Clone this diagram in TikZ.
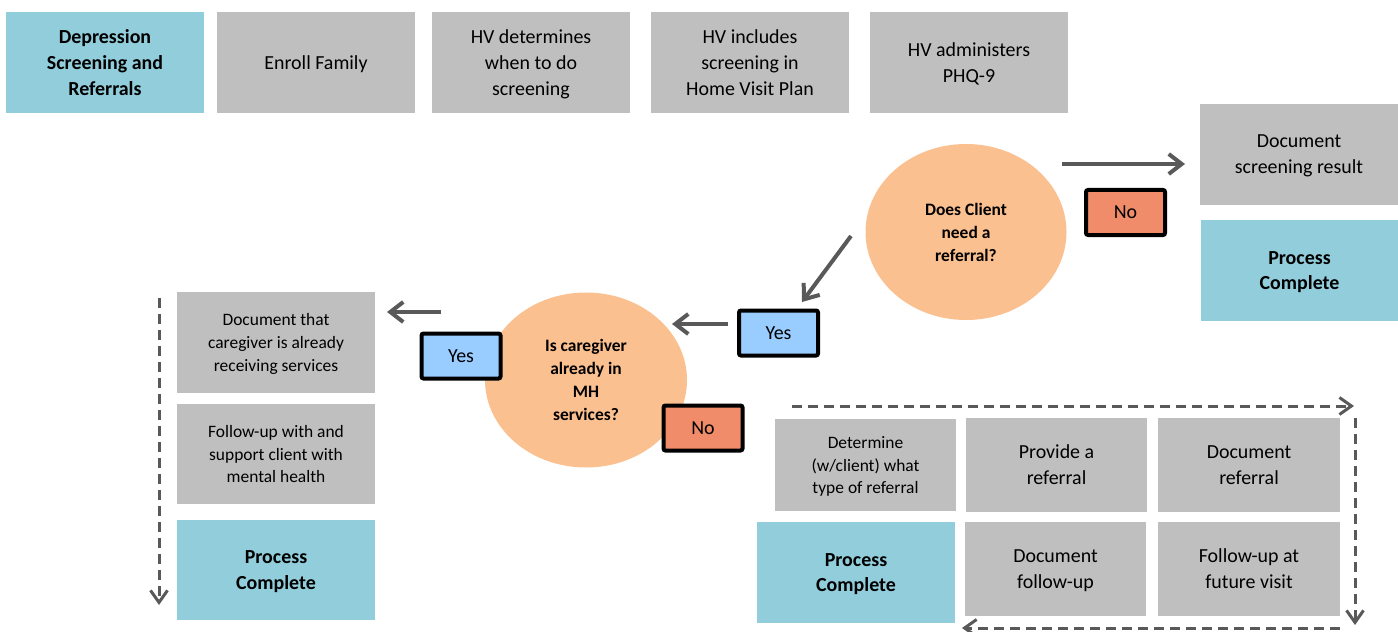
\documentclass[tikz,border=0pt]{standalone}
\usepackage{fontspec}
\setmainfont{Carlito}
\usetikzlibrary{arrows.meta,shapes.geometric}
\definecolor{boxgray}{HTML}{BFBFBF}
\definecolor{boxblue}{HTML}{92CDDC}
\definecolor{circc}{HTML}{FAC090}
\definecolor{yesc}{HTML}{99CCFF}
\definecolor{noc}{HTML}{F08C6A}
\definecolor{arrc}{HTML}{595959}
\begin{document}
\begin{tikzpicture}[x=1bp,y=-1bp,
  base/.style={inner sep=0pt, outer sep=0pt, align=center, anchor=north west, text depth=-3bp},
  gbox/.style={base, fill=boxgray, font=\fontsize{20}{26}\selectfont},
  sbox/.style={base, fill=boxgray, font=\fontsize{17.5}{23}\selectfont},
  bbox/.style={base, fill=boxblue, font=\fontsize{20}{26}\selectfont\bfseries},
  decision/.style={ellipse, fill=circc, inner sep=0pt, align=center, text depth=-2bp, font=\fontsize{17.5}{23}\selectfont\bfseries},
  tag/.style={draw=black, line width=4bp, rounded corners=2bp, inner sep=0pt, minimum width=79bp, minimum height=45bp, text depth=-6bp, font=\fontsize{20}{24}\selectfont},
  flow/.style={draw=arrc, line width=4bp, -{Straight Barb[length=13bp,width=20bp]}},
  dflow/.style={draw=arrc, line width=3bp, dash pattern=on 10bp off 6bp, -{Straight Barb[length=12bp,width=17bp]}}
]
\useasboundingbox (0,0) rectangle (1398,632);

% top row
\node[bbox, minimum width=198bp, minimum height=101bp] (dep) at (6,12) {Depression\\Screening and\\Referrals};
\node[gbox, minimum width=198bp, minimum height=101bp] (enroll) at (217,12) {Enroll Family};
\node[gbox, minimum width=198bp, minimum height=101bp] (hvdet) at (432,12) {HV determines\\when to do\\screening};
\node[gbox, minimum width=198bp, minimum height=101bp] (hvinc) at (651,12) {HV includes\\screening in\\Home Visit Plan};
\node[gbox, minimum width=198bp, minimum height=101bp] (hvadm) at (870,12) {HV administers\\PHQ-9};

% right column
\node[gbox, minimum width=198bp, minimum height=101bp] (docscr) at (1200,104) {Document\\screening result};
\node[bbox, minimum width=197bp, minimum height=101bp] (pc1) at (1201,220) {Process\\Complete};

% decisions
\node[decision, minimum width=201bp, minimum height=176bp] (q1) at (966,232) {Does Client\\need a\\referral?};
\node[decision, minimum width=202bp, minimum height=175bp] (q2) at (586,380) {Is caregiver\\already in\\MH\\services?};

% tags
\node[tag, fill=noc] (no1) at (1125.5,212.5) {No};
\node[tag, fill=yesc] (yes1) at (778.5,333) {Yes};
\node[tag, fill=yesc] (yes2) at (461,356) {Yes};
\node[tag, fill=noc] (no2) at (703,428) {No};

% left column
\node[sbox, minimum width=198bp, minimum height=101bp] (doccare) at (177,292) {Document that\\caregiver is already\\receiving services};
\node[sbox, minimum width=198bp, minimum height=100bp] (fuwith) at (177,404) {Follow-up with and\\support client with\\mental health};
\node[bbox, minimum width=198bp, minimum height=100bp] (pc2) at (177,520) {Process\\Complete};

% bottom right grid
\node[sbox, minimum width=181bp, minimum height=92bp] (determ) at (775,419) {Determine\\(w/client) what\\type of referral};
\node[gbox, minimum width=181bp, minimum height=94bp] (provide) at (966,418) {Provide a\\referral};
\node[gbox, minimum width=182bp, minimum height=94bp] (docref) at (1158,418) {Document\\referral};
\node[bbox, minimum width=198bp, minimum height=101bp] (pc3) at (757,522) {Process\\Complete};
\node[gbox, minimum width=181bp, minimum height=94bp] (docfu) at (965,522) {Document\\follow-up};
\node[gbox, minimum width=182bp, minimum height=94bp] (futvis) at (1158,522) {Follow-up at\\future visit};

% connector end points
\coordinate (a1s) at (1062,164); \coordinate (a1e) at (1185,164);
\coordinate (a2s) at (851,236); \coordinate (a2e) at (802,302);
\coordinate (a3s) at (728,324); \coordinate (a3e) at (672,324);
\coordinate (a4s) at (441,312); \coordinate (a4e) at (387,312);
\coordinate (d1s) at (159,298); \coordinate (d1e) at (159,605);
\coordinate (d2s) at (792,406); \coordinate (d2e) at (1354,406);
\coordinate (d3s) at (1355,418); \coordinate (d3e) at (1355,625);
\coordinate (d4s) at (1340,628); \coordinate (d4e) at (962,628);

\draw[flow] (a1s) -- (a1e);
\draw[flow] (a2s) -- (a2e);
\draw[flow] (a3s) -- (a3e);
\draw[flow] (a4s) -- (a4e);
\draw[dflow] (d1s) -- (d1e);
\draw[dflow] (d2s) -- (d2e);
\draw[dflow] (d3s) -- (d3e);
\draw[dflow] (d4s) -- (d4e);
\end{tikzpicture}
\end{document}
